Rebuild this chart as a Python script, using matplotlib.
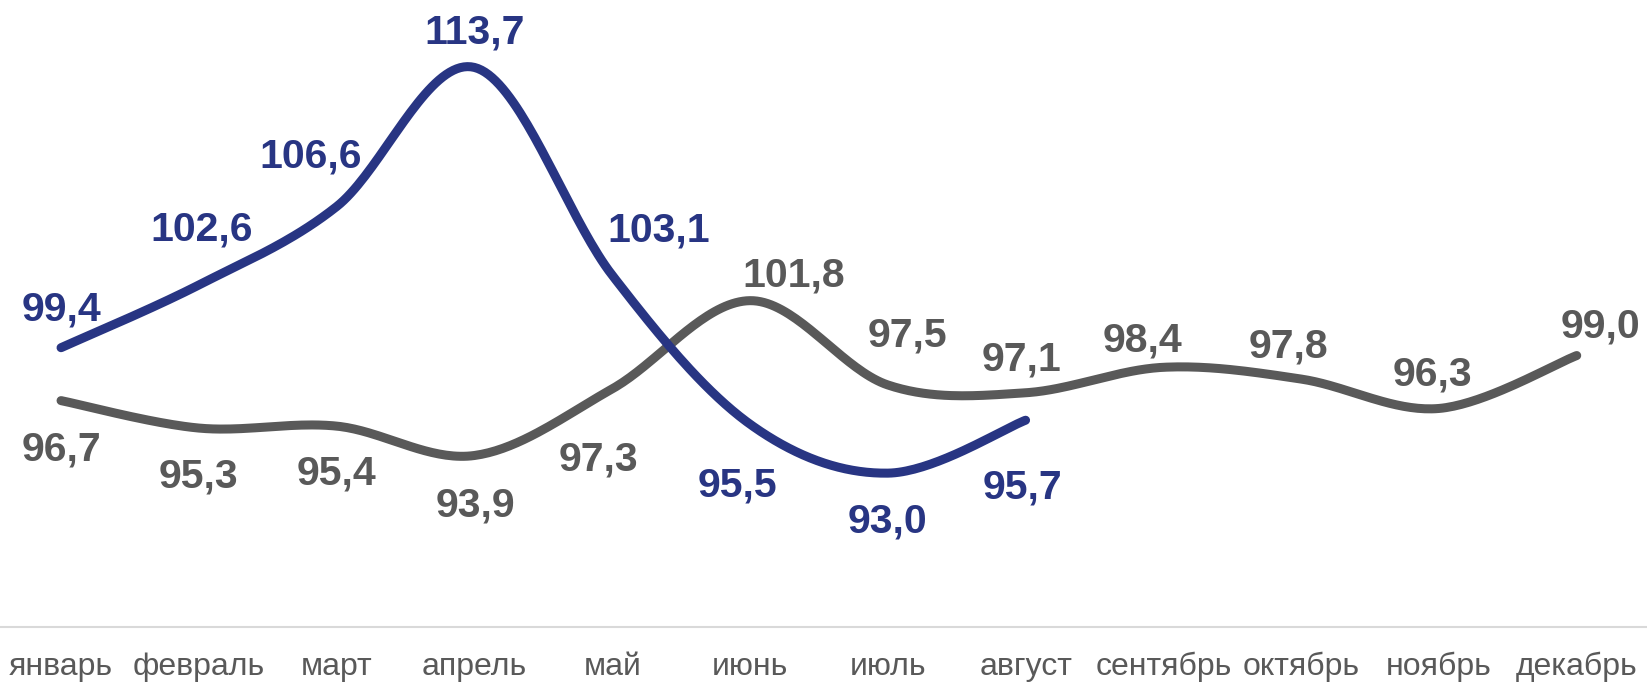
import numpy as np
import matplotlib
matplotlib.use('Agg')
import matplotlib.pyplot as plt

# Данные
months = ['январь', 'февраль', 'март', 'апрель', 'май', 'июнь', 'июль',
          'август', 'сентябрь', 'октябрь', 'ноябрь', 'декабрь']
blue_values = [99.4, 102.6, 106.6, 113.7, 103.1, 95.5, 93.0, 95.7]
gray_values = [96.7, 95.3, 95.4, 93.9, 97.3, 101.8, 97.5, 97.1, 98.4, 97.8, 96.3, 99.0]

# Смещения подписей в пикселях (центр подписи относительно точки, вниз = +)
blue_offsets = [(0, -42), (3, -59), (-26, -54), (0, -38), (46, -48),
                (-13, 58), (0, 45), (-3, 64)]
gray_offsets = [(0, 45), (0, 45), (0, 44), (1, 46), (-14, 67), (44, -29),
                (20, -53), (-4, -37), (-21, -30), (-13, -36), (-7, -37), (24, -33)]

BLUE = '#283583'
GRAY = '#595959'


def smooth(values, steps=40):
    """Сглаживание как в Excel (Catmull-Rom через кривые Безье)"""
    pts = np.column_stack([np.arange(len(values)), values]).astype(float)
    ext = np.vstack([pts[0], pts, pts[-1]])
    out = []
    t = np.linspace(0, 1, steps)[:, None]
    for i in range(1, len(ext) - 2):
        p0, p1, p2, p3 = ext[i - 1], ext[i], ext[i + 1], ext[i + 2]
        c1 = p1 + (p2 - p0) / 6
        c2 = p2 - (p3 - p1) / 6
        seg = ((1 - t) ** 3) * p1 + 3 * ((1 - t) ** 2) * t * c1 \
            + 3 * (1 - t) * t ** 2 * c2 + t ** 3 * p2
        out.append(seg if i == 1 else seg[1:])
    out = np.vstack(out)
    return out[:, 0], out[:, 1]


plt.rcParams['font.family'] = ['Liberation Sans', 'DejaVu Sans']

fig = plt.figure(figsize=(16.47, 6.83), dpi=100)
ax = fig.add_axes([0, 56 / 683, 1, 627 / 683])

for vals, color in [(gray_values, GRAY), (blue_values, BLUE)]:
    xs, ys = smooth(vals)
    ax.plot(xs, ys, color=color, linewidth=6.5, solid_capstyle='round')

# Подписи данных
for vals, offs, color in [(gray_values, gray_offsets, GRAY), (blue_values, blue_offsets, BLUE)]:
    for i, (v, (dx, dy)) in enumerate(zip(vals, offs)):
        ax.annotate(f'{v:.1f}'.replace('.', ','), xy=(i, v),
                    xytext=(dx, -(dy + 14.5)), textcoords='offset pixels',
                    ha='center', va='baseline', fontsize=29.5,
                    fontweight='bold', color=color)

ax.set_xlim(-0.443, 11.51)
ax.set_ylim(85.15, 117.14)
ax.set_xticks(range(len(months)))
ax.set_xticklabels(months, fontsize=23, color=GRAY)
ax.tick_params(axis='x', length=0, pad=18)
ax.set_yticks([])
for side in ['top', 'left', 'right']:
    ax.spines[side].set_visible(False)
ax.spines['bottom'].set_color('#D9D9D9')
ax.spines['bottom'].set_linewidth(1.5)

fig.savefig('out.png', dpi=100)
